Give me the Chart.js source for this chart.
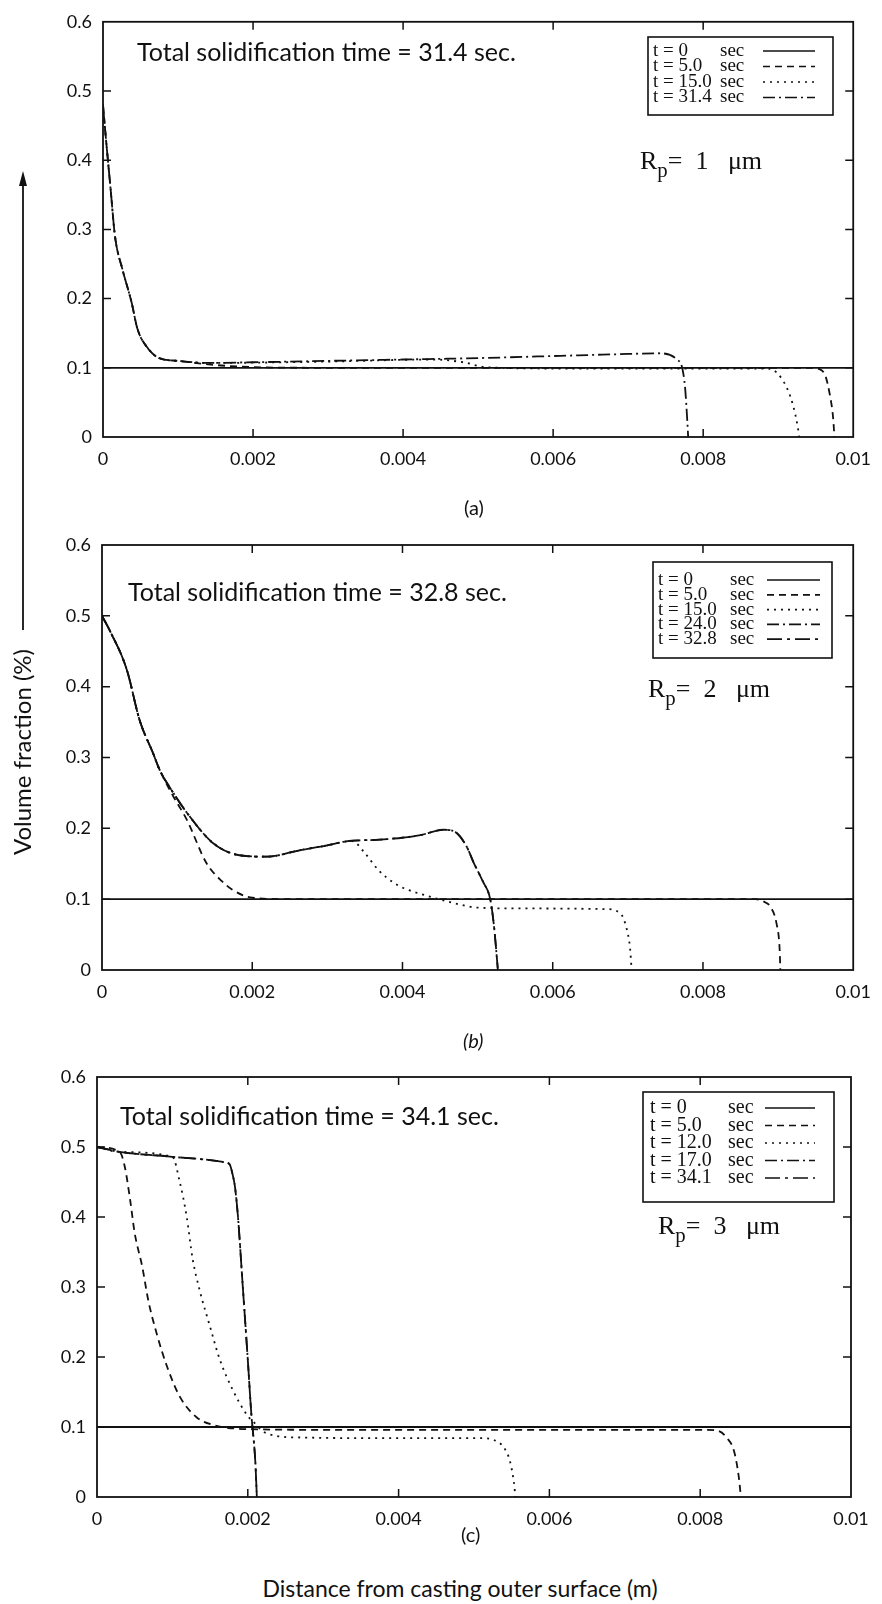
<!DOCTYPE html>
<html><head><meta charset="utf-8">
<script src="https://cdn.jsdelivr.net/npm/chart.js@4.4.1/dist/chart.umd.min.js"></script>
<style>
body{margin:0;background:#fff;width:882px;height:1604px;position:relative;overflow:hidden;font-family:Lato,sans-serif;color:#111}
canvas{position:absolute;left:0}
.t{position:absolute;white-space:pre;line-height:1}
.ttl{font-size:25px}
.rp{font-family:"Liberation Serif",serif;font-size:26px}
.rp sub{font-size:0.8em;vertical-align:-0.4em;line-height:0}
.pl{font-size:20px}
</style></head><body>
<canvas id="ca" width="882" height="500" style="top:0"></canvas>
<canvas id="cb" width="882" height="520" style="top:520px"></canvas>
<canvas id="cc" width="882" height="490" style="top:1050px"></canvas>

<div class="t ttl" style="left:137px;top:39px">Total solidification time = 31.4 sec.</div>
<div class="t ttl" style="left:128px;top:579px">Total solidification time = 32.8 sec.</div>
<div class="t ttl" style="left:120px;top:1103px">Total solidification time = 34.1 sec.</div>
<div class="t rp" style="left:640px;top:148px">R<sub>p</sub>=  1   μm</div>
<div class="t rp" style="left:648px;top:676px">R<sub>p</sub>=  2   μm</div>
<div class="t rp" style="left:658px;top:1213px">R<sub>p</sub>=  3   μm</div>
<div class="t pl" style="left:464px;top:497px">(a)</div>
<div class="t pl" style="left:463px;top:1030px;font-style:italic">(b)</div>
<div class="t pl" style="left:461px;top:1524px">(c)</div>
<div class="t" style="left:460px;top:1588px;font-size:23px;transform:translate(-50%,-50%)">Distance from casting outer surface (m)</div>
<div class="t" style="left:22px;top:752px;font-size:24px;transform:translate(-50%,-50%) rotate(-90deg)">Volume fraction (%)</div>
<svg style="position:absolute;left:0;top:0" width="60" height="700">
  <line x1="23" y1="180" x2="23" y2="630" stroke="#111" stroke-width="1.8"/>
  <polygon points="23,171 19,186 27,186" fill="#111"/>
</svg>

<script>
// ---------- tick labels ----------
const xTickLabels = ["0","0.002","0.004","0.006","0.008","0.01"];
const yTickLabels = ["0","0.1","0.2","0.3","0.4","0.5","0.6"];

// ---------- panel (a) Rp = 1 um ----------
const aTimes = ["0","5.0","15.0","31.4"];
const a0x = [0, 0.01];
const a0y = [0.1, 0.1];
const a5x = [0,0.00004,0.0001,0.00016,0.00026,0.00038,0.00046,0.0006,0.00075,0.001,0.0015,0.002,0.003,0.0094,0.00955,0.00963,0.00969,0.00973,0.00975];
const a5y = [0.48,0.43,0.36,0.29,0.242,0.195,0.156,0.128,0.114,0.11,0.104,0.101,0.1,0.1,0.098,0.088,0.06,0.03,0];
const a15x = [0,0.00004,0.0001,0.00016,0.00026,0.00038,0.00046,0.0006,0.00075,0.001,0.0014,0.003,0.0044,0.0048,0.0051,0.006,0.00885,0.00898,0.00912,0.0092,0.00926,0.00928];
const a15y = [0.48,0.43,0.36,0.29,0.242,0.195,0.156,0.128,0.114,0.11,0.107,0.109,0.112,0.108,0.101,0.099,0.099,0.093,0.07,0.045,0.015,0];
const a31x = [0,0.00004,0.0001,0.00016,0.00026,0.00038,0.00046,0.0006,0.00075,0.001,0.0014,0.002,0.003,0.004,0.005,0.006,0.007,0.0074,0.00765,0.00772,0.00776,0.00779,0.0078];
const a31y = [0.48,0.43,0.36,0.29,0.242,0.195,0.156,0.128,0.114,0.11,0.107,0.108,0.11,0.112,0.114,0.117,0.12,0.121,0.112,0.1,0.07,0.02,0];

// ---------- panel (b) Rp = 2 um ----------
const bTimes = ["0","5.0","15.0","24.0","32.8"];
const b0x = [0, 0.01];
const b0y = [0.1, 0.1];
const b5x = [0,0.0001,0.00033,0.0005,0.00068,0.00077,0.00095,0.00113,0.00139,0.0016,0.00174,0.002,0.0025,0.0087,0.0088,0.0089,0.00898,0.00902,0.00903];
const b5y = [0.5,0.48,0.424,0.353,0.306,0.282,0.245,0.212,0.151,0.125,0.113,0.102,0.1,0.1,0.097,0.089,0.065,0.03,0];
const b15x = [0,0.0001,0.00033,0.0005,0.00068,0.00077,0.00095,0.00113,0.00148,0.00183,0.00219,0.00263,0.003,0.00333,0.0035,0.00368,0.0039,0.00408,0.00442,0.0047,0.005,0.0055,0.0067,0.0069,0.00698,0.00703,0.00705];
const b15y = [0.5,0.48,0.424,0.353,0.306,0.282,0.25,0.222,0.179,0.162,0.16,0.169,0.176,0.182,0.165,0.141,0.122,0.113,0.102,0.094,0.088,0.087,0.086,0.08,0.06,0.03,0];
const b24x = [0,0.0001,0.00033,0.0005,0.00068,0.00077,0.00095,0.00113,0.00148,0.00183,0.00219,0.00263,0.003,0.00327,0.0037,0.00422,0.00455,0.0047,0.00485,0.00495,0.00507,0.00517,0.00522,0.00527];
const b24y = [0.5,0.48,0.424,0.353,0.306,0.282,0.25,0.222,0.179,0.162,0.16,0.169,0.176,0.182,0.184,0.19,0.198,0.195,0.175,0.151,0.125,0.099,0.06,0];
const b32x = [0,0.0001,0.00033,0.0005,0.00068,0.00077,0.00095,0.00113,0.00148,0.00183,0.00219,0.00263,0.003,0.00327,0.0037,0.00422,0.00455,0.0047,0.00485,0.00495,0.00507,0.00517,0.00522,0.00527];
const b32y = [0.5,0.48,0.424,0.353,0.306,0.282,0.25,0.222,0.179,0.162,0.16,0.169,0.176,0.182,0.184,0.19,0.198,0.195,0.175,0.151,0.125,0.099,0.06,0];

// ---------- panel (c) Rp = 3 um ----------
const cTimes = ["0","5.0","12.0","17.0","34.1"];
const c0x = [0, 0.01];
const c0y = [0.1, 0.1];
const c5x = [0,0.0003,0.00037,0.00044,0.0005,0.0006,0.00068,0.00079,0.00093,0.0011,0.00132,0.00154,0.002,0.003,0.0081,0.00825,0.00835,0.00845,0.00851,0.00854];
const c5y = [0.5,0.493,0.471,0.424,0.377,0.329,0.281,0.234,0.186,0.143,0.114,0.103,0.097,0.096,0.096,0.094,0.085,0.065,0.03,0];
const c12x = [0,0.0003,0.001,0.0011,0.00119,0.00127,0.00136,0.0015,0.00163,0.0018,0.00199,0.00205,0.00225,0.0027,0.004,0.0051,0.00525,0.0054,0.00548,0.00553,0.00555];
const c12y = [0.5,0.493,0.486,0.449,0.4,0.339,0.296,0.243,0.196,0.153,0.117,0.11,0.091,0.085,0.084,0.084,0.082,0.07,0.05,0.02,0];
const c17x = [0,0.0003,0.001,0.0017,0.00176,0.0018,0.00183,0.00187,0.00193,0.002,0.00205,0.00207,0.0021,0.00212];
const c17y = [0.5,0.493,0.486,0.478,0.475,0.46,0.443,0.4,0.306,0.196,0.114,0.091,0.05,0];
const c34x = [0,0.0003,0.001,0.0017,0.00176,0.0018,0.00183,0.00187,0.00193,0.002,0.00205,0.00207,0.0021,0.00212];
const c34y = [0.5,0.493,0.486,0.478,0.475,0.46,0.443,0.4,0.306,0.196,0.114,0.091,0.05,0];

// ---------- styles ----------
const SOLID = [];
const DASH = [7,5];
const DOT = [2,5];
const DASHDOT = [12,4,2,4];
const DASHDOT2 = [15,5,3,5];

function pts(xs, ys){ return xs.map((x,i)=>({x:x, y:ys[i]})); }
function ds(label, xs, ys, dash){
  return {label: label, data: pts(xs,ys), borderColor:'#111', borderWidth:1.8, borderDash:dash,
          pointRadius:0, fill:false, tension:0, cubicInterpolationMode:'monotone'};
}

const frame = {
  id:'frame',
  afterDatasetsDraw(chart){
    const {ctx, chartArea:a, scales} = chart;
    ctx.save();
    ctx.strokeStyle='#111'; ctx.lineWidth=1.8; ctx.setLineDash([]);
    ctx.strokeRect(a.left, a.top, a.right-a.left, a.bottom-a.top);
    ctx.lineWidth=1.5;
    const L=8;
    scales.x.ticks.forEach((t,i)=>{
      if(i===0||i===scales.x.ticks.length-1) return;
      const px = scales.x.getPixelForValue(t.value);
      ctx.beginPath(); ctx.moveTo(px,a.bottom); ctx.lineTo(px,a.bottom-L);
      ctx.moveTo(px,a.top); ctx.lineTo(px,a.top+L); ctx.stroke();
    });
    scales.y.ticks.forEach((t,i)=>{
      if(i===0||i===scales.y.ticks.length-1) return;
      const py = scales.y.getPixelForValue(t.value);
      ctx.beginPath(); ctx.moveTo(a.left,py); ctx.lineTo(a.left+L,py);
      ctx.moveTo(a.right,py); ctx.lineTo(a.right-L,py); ctx.stroke();
    });
    ctx.restore();
  }
};

const boxLegend = {
  id:'boxLegend',
  afterDraw(chart, args, o){
    const ctx = chart.ctx;
    ctx.save();
    ctx.fillStyle='#fff';
    ctx.fillRect(o.x0, o.y0, o.x1-o.x0, o.y1-o.y0);
    ctx.strokeStyle='#111'; ctx.lineWidth=1.6; ctx.setLineDash([]);
    ctx.strokeRect(o.x0, o.y0, o.x1-o.x0, o.y1-o.y0);
    ctx.font = o.size+'px "Liberation Serif", serif';
    ctx.fillStyle='#111'; ctx.textBaseline='middle'; ctx.textAlign='left';
    chart.data.datasets.forEach((d,i)=>{
      const y = o.row0 + i*o.rowH;
      ctx.fillText(d.label, o.tx, y);
      ctx.fillText('sec', o.sx, y);
      ctx.beginPath(); ctx.setLineDash(d.borderDash); ctx.lineWidth=1.7;
      ctx.moveTo(o.l1, y); ctx.lineTo(o.l2, y); ctx.stroke();
      ctx.setLineDash([]);
    });
    ctx.restore();
  }
};

function tickLabel(list, step){
  return function(v){ const k = Math.round(v/step); return list[k] !== undefined ? list[k] : ''; };
}

function makeChart(id, datasets, yWidth, pad, leg){
  return new Chart(document.getElementById(id), {
    type:'line',
    data:{datasets:datasets},
    options:{
      responsive:false, animation:false, devicePixelRatio:1,
      layout:{padding:pad},
      plugins:{legend:{display:false}, tooltip:{enabled:false}, boxLegend:leg},
      scales:{
        x:{type:'linear', min:0, max:0.01,
           ticks:{stepSize:0.002, color:'#111', padding:11, maxRotation:0, font:{family:'Lato', size:18},
                  callback: tickLabel(xTickLabels, 0.002)},
           grid:{display:false, drawTicks:false}, border:{display:false},
           afterFit(s){ s.height = 40; }},
        y:{type:'linear', min:0, max:0.6,
           ticks:{stepSize:0.1, color:'#111', padding:11, font:{family:'Lato', size:18},
                  callback: tickLabel(yTickLabels, 0.1)},
           grid:{display:false, drawTicks:false}, border:{display:false},
           afterFit(s){ s.width = yWidth; }}
      }
    },
    plugins:[frame, boxLegend]
  });
}

const T = t => 't = ' + t;

makeChart('ca', [
  ds(T(aTimes[0]), a0x, a0y, SOLID),
  ds(T(aTimes[1]), a5x, a5y, DASH),
  ds(T(aTimes[2]), a15x, a15y, DOT),
  ds(T(aTimes[3]), a31x, a31y, DASHDOT)
], 103, {top:15, right:25, bottom:23, left:0},
 {x0:648, y0:37, x1:833, y1:115, row0:51, rowH:15.5, tx:653, sx:720, l1:763, l2:815, size:19});

makeChart('cb', [
  ds(T(bTimes[0]), b0x, b0y, SOLID),
  ds(T(bTimes[1]), b5x, b5y, DASH),
  ds(T(bTimes[2]), b15x, b15y, DOT),
  ds(T(bTimes[3]), b24x, b24y, DASHDOT),
  ds(T(bTimes[4]), b32x, b32y, DASHDOT2)
], 102, {top:25, right:27, bottom:30, left:0},
 {x0:653, y0:42, x1:832, y1:138, row0:60, rowH:14.8, tx:658, sx:730, l1:767, l2:820, size:19});

makeChart('cc', [
  ds(T(cTimes[0]), c0x, c0y, SOLID),
  ds(T(cTimes[1]), c5x, c5y, DASH),
  ds(T(cTimes[2]), c12x, c12y, DOT),
  ds(T(cTimes[3]), c17x, c17y, DASHDOT),
  ds(T(cTimes[4]), c34x, c34y, DASHDOT2)
], 97, {top:27, right:31, bottom:3, left:0},
 {x0:643, y0:42, x1:834, y1:152, row0:58, rowH:17.5, tx:650, sx:728, l1:765, l2:815, size:20});
</script>
</body></html>
